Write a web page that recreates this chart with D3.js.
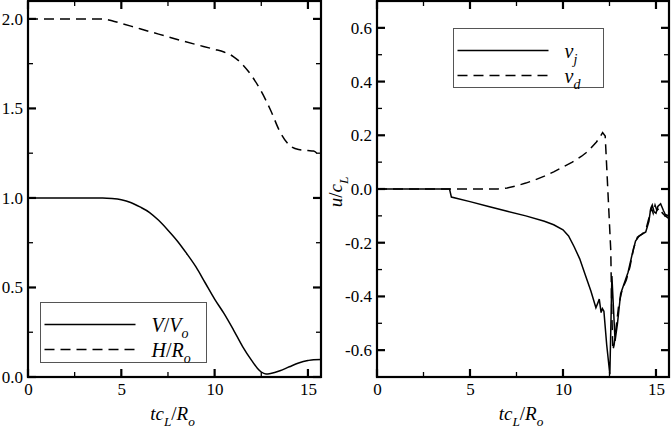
<!DOCTYPE html>
<html lang="en">
<head>
<meta charset="UTF-8">
<title>Cavity collapse</title>
</head>
<body style="margin:0">
<div id="chart"></div>
<script src="https://d3js.org/d3.v7.min.js"></script>
<script>
// left panel: V/Vo (solid) and H/Ro (dashed) vs t cL/Ro
var tV = [0, 4, 4.5, 5, 5.5, 6, 6.5, 7, 7.5, 8, 8.5, 9, 9.5, 10, 10.5, 11, 11.5, 12, 12.3, 12.5, 12.75, 13, 13.5, 14, 14.5, 15, 15.3, 15.7];
var V  = [1, 1, 0.997, 0.99, 0.975, 0.95, 0.92, 0.875, 0.82, 0.76, 0.69, 0.615, 0.525, 0.435, 0.355, 0.265, 0.17, 0.09, 0.048, 0.028, 0.017, 0.02, 0.035, 0.057, 0.078, 0.092, 0.097, 0.098];
var tH = [0, 4, 4.5, 5, 6, 7, 8, 9, 10, 10.5, 11, 11.5, 12, 12.5, 13, 13.5, 14, 14.5, 15, 15.3, 15.7];
var H  = [2, 2, 1.99, 1.975, 1.945, 1.915, 1.885, 1.857, 1.83, 1.815, 1.79, 1.745, 1.68, 1.595, 1.49, 1.37, 1.295, 1.27, 1.265, 1.262, 1.22];

// right panel: vj (solid) and vd (dashed)
var tJ = [0, 3.9, 4.0, 5, 6, 7, 8, 9, 9.5, 10, 10.3, 10.6, 10.9, 11.2, 11.5, 11.77, 11.87, 11.95, 12.05, 12.12, 12.2, 12.35, 12.52, 12.63, 12.8, 12.93, 13.1, 13.3, 13.5, 13.73, 13.9, 14.09, 14.45, 14.62, 14.71, 14.8, 14.9, 15.0, 15.1, 15.25, 15.4, 15.5, 15.7];
var vj = [0, 0, -0.03, -0.047, -0.065, -0.083, -0.1, -0.12, -0.133, -0.152, -0.175, -0.215, -0.26, -0.32, -0.38, -0.442, -0.425, -0.41, -0.46, -0.445, -0.455, -0.58, -0.69, -0.324, -0.566, -0.5, -0.39, -0.35, -0.31, -0.24, -0.194, -0.175, -0.16, -0.12, -0.075, -0.06, -0.085, -0.09, -0.065, -0.055, -0.08, -0.095, -0.1];
var tD = [0, 6.5, 7, 7.5, 8, 8.5, 9, 9.5, 10, 10.5, 11, 11.24, 11.5, 11.8, 12.0, 12.13, 12.27, 12.57, 12.62, 12.68, 12.75, 12.85, 13.0, 13.2, 13.4, 13.6, 13.8, 14.0, 14.3, 14.5, 14.65, 14.75, 14.85, 14.95, 15.05, 15.2, 15.35, 15.5, 15.7];
var vd = [0, 0, 0.004, 0.012, 0.022, 0.034, 0.048, 0.064, 0.082, 0.1, 0.122, 0.135, 0.152, 0.175, 0.195, 0.21, 0.197, -0.23, -0.45, -0.6, -0.58, -0.52, -0.43, -0.37, -0.34, -0.29, -0.22, -0.18, -0.165, -0.14, -0.1, -0.07, -0.09, -0.06, -0.08, -0.07, -0.09, -0.1, -0.11];

// ticks
var xTicks = [0, 5, 10, 15], xMinor = [2.5, 7.5, 12.5];
var leftTicks = [0, 0.5, 1, 1.5, 2], leftMinor = [0.25, 0.75, 1.25, 1.75];
var rightTicks = [-0.6, -0.4, -0.2, 0, 0.2, 0.4, 0.6], rightMinor = [-0.5, -0.3, -0.1, 0.1, 0.3, 0.5];

var FONT = "Liberation Serif, DejaVu Serif, serif";
var h = 376;

var svg = d3.select("#chart").append("svg")
    .attr("width", 672)
    .attr("height", 430)
    .style("display", "block");

function zip(ts, vs) { return ts.map(function(t, i) { return [t, vs[i]]; }); }

function mathLabel(el, parts, size) {
  var shift = 0;
  el.attr("font-family", FONT).attr("fill", "#000");
  parts.forEach(function(p) {
    var target = p[2] ? size * 0.32 : 0;
    el.append("tspan")
      .attr("dy", target - shift)
      .attr("font-family", FONT)
      .attr("font-style", p[1] ? "italic" : "normal")
      .attr("font-size", p[2] ? size * 0.7 : size)
      .text(p[0]);
    shift = target;
  });
}

// ---- left panel ----
var gL = svg.append("g").attr("transform", "translate(28,1)");
var xL = d3.scaleLinear().domain([0, 15.7]).range([0, 293]);
var yL = d3.scaleLinear().domain([0, 2.1]).range([h, 0]);

// ---- right panel ----
var gR = svg.append("g").attr("transform", "translate(377,1)");
var xR = d3.scaleLinear().domain([0, 15.7]).range([0, 292]);
var yR = d3.scaleLinear().domain([-0.7, 0.7]).range([h, 0]);

var panels = [
  { g: gL, x: xL, y: yL, w: 293, major: leftTicks, minor: leftMinor },
  { g: gR, x: xR, y: yR, w: 292, major: rightTicks, minor: rightMinor }
];

panels.forEach(function(p) {
  var g = p.g, x = p.x, y = p.y, w = p.w;

  // tick labels
  var xa = g.append("g").attr("transform", "translate(0," + h + ")")
    .call(d3.axisBottom(x).tickValues(xTicks).tickSize(0).tickPadding(6)
      .tickFormat(function(d) { return d.toFixed(0); }));
  xa.select(".domain").remove();
  xa.selectAll(".tick text").attr("font-family", FONT).attr("font-size", 17).attr("fill", "#000");
  var ya = g.append("g")
    .call(d3.axisLeft(y).tickValues(p.major).tickSize(0).tickPadding(5)
      .tickFormat(function(d) { return d.toFixed(1); }));
  ya.select(".domain").remove();
  ya.selectAll(".tick text").attr("font-family", FONT).attr("font-size", 17).attr("fill", "#000");

  // inward ticks, all four sides
  [[xTicks, 8, 2.2], [xMinor, 5, 1.3]].forEach(function(s) {
    g.append("g").selectAll("line").data(s[0]).join("line")
      .attr("x1", function(d) { return x(d); }).attr("x2", function(d) { return x(d); })
      .attr("y1", h).attr("y2", h - s[1])
      .attr("stroke", "#000").attr("stroke-width", s[2]);
    g.append("g").selectAll("line").data(s[0]).join("line")
      .attr("x1", function(d) { return x(d); }).attr("x2", function(d) { return x(d); })
      .attr("y1", 0).attr("y2", s[1])
      .attr("stroke", "#000").attr("stroke-width", s[2]);
  });
  [[p.major, 8, 2.2], [p.minor, 5, 1.3]].forEach(function(s) {
    g.append("g").selectAll("line").data(s[0]).join("line")
      .attr("y1", function(d) { return y(d); }).attr("y2", function(d) { return y(d); })
      .attr("x1", 0).attr("x2", s[1])
      .attr("stroke", "#000").attr("stroke-width", s[2]);
    g.append("g").selectAll("line").data(s[0]).join("line")
      .attr("y1", function(d) { return y(d); }).attr("y2", function(d) { return y(d); })
      .attr("x1", w).attr("x2", w - s[1])
      .attr("stroke", "#000").attr("stroke-width", s[2]);
  });

  g.append("rect")
    .attr("width", w).attr("height", h)
    .attr("fill", "none").attr("stroke", "#000").attr("stroke-width", 2.2);

  var title = g.append("text")
    .attr("x", w / 2 - 2).attr("y", 419)
    .attr("text-anchor", "middle");
  mathLabel(title, [["tc", 1, 0], ["L", 1, 1], ["/", 0, 0], ["R", 1, 0], ["o", 1, 1]], 19);
});

function drawLine(g, x, y, data, dashed, curve) {
  var line = d3.line()
    .x(function(d) { return x(d[0]); })
    .y(function(d) { return y(d[1]); })
    .curve(curve);
  g.append("path")
    .datum(data)
    .attr("d", line)
    .attr("fill", "none")
    .attr("stroke", "#000")
    .attr("stroke-width", 1.5)
    .attr("stroke-dasharray", dashed ? "10,6" : null);
}

drawLine(gL, xL, yL, zip(tV, V), false, d3.curveMonotoneX);
drawLine(gL, xL, yL, zip(tH, H), true, d3.curveMonotoneX);
drawLine(gR, xR, yR, zip(tJ, vj), false, d3.curveLinear);
drawLine(gR, xR, yR, zip(tD, vd), true, d3.curveLinear);

function legend(x0, y0, bw, bh, items) {
  var lg = svg.append("g").attr("transform", "translate(" + x0 + "," + y0 + ")");
  lg.append("rect").attr("width", bw).attr("height", bh)
    .attr("fill", "#fff").attr("stroke", "#555").attr("stroke-width", 1);
  items.forEach(function(it) {
    lg.append("line")
      .attr("x1", 4).attr("x2", 95).attr("y1", it.y).attr("y2", it.y)
      .attr("stroke", "#000").attr("stroke-width", 1.5)
      .attr("stroke-dasharray", it.dashed ? "10,6" : null);
    var t = lg.append("text").attr("x", 111).attr("y", it.y + 7);
    mathLabel(t, it.parts, 20);
  });
}

legend(40.5, 302.5, 166, 60, [
  { y: 22, dashed: false, parts: [["V", 1, 0], ["/", 0, 0], ["V", 1, 0], ["o", 1, 1]] },
  { y: 47, dashed: true, parts: [["H", 1, 0], ["/", 0, 0], ["R", 1, 0], ["o", 1, 1]] }
]);
legend(453.5, 28.5, 150, 59, [
  { y: 22, dashed: false, parts: [["v", 1, 0], ["j", 1, 1]] },
  { y: 47, dashed: true, parts: [["v", 1, 0], ["d", 1, 1]] }
]);

var ylab = svg.append("text")
  .attr("transform", "translate(342,192) rotate(-90)")
  .attr("text-anchor", "middle");
mathLabel(ylab, [["u", 1, 0], ["/", 0, 0], ["c", 1, 0], ["L", 1, 1]], 19);
</script>
</body>
</html>
